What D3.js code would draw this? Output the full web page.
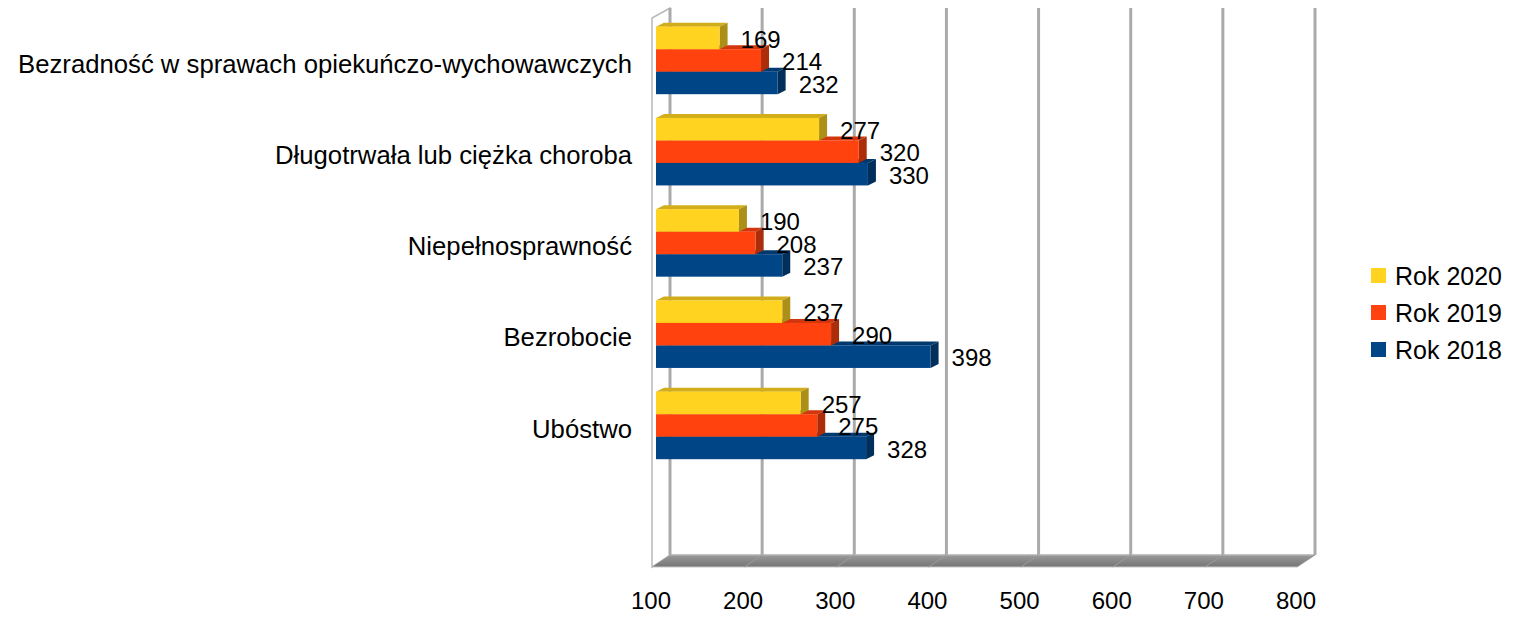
<!DOCTYPE html>
<html>
<head>
<meta charset="utf-8">
<script src="https://cdn.jsdelivr.net/npm/d3@7"></script>
<style>
  html, body { margin: 0; padding: 0; background: #ffffff; }
  svg { display: block; font-family: "Liberation Sans", Arial, sans-serif; }
</style>
</head>
<body>
<svg id="chart" width="1521" height="617"></svg>
<script>
// ---- data ----
const categories = [
  "Bezradność w sprawach opiekuńczo-wychowawczych",
  "Długotrwała lub ciężka choroba",
  "Niepełnosprawność",
  "Bezrobocie",
  "Ubóstwo"
];
const seriesNames = ["Rok 2020", "Rok 2019", "Rok 2018"];
const rok2020 = [169, 277, 190, 237, 257];
const rok2019 = [214, 320, 208, 290, 275];
const rok2018 = [232, 330, 237, 398, 328];
const seriesColors = ["#FFD320", "#FF420E", "#004586"];
const xTicks = [100, 200, 300, 400, 500, 600, 700, 800];

const seriesValues = [rok2020, rok2019, rok2018];

const svg = d3.select("#chart");

// ---- scales ----
const x = d3.scaleLinear().domain([100, 800]).range([652, 1297]); // front plane
const depth = { dx: 18, dy: -12 };       // wall depth
const barShift = 4;                       // bars sit slightly behind front plane
const barDepth = { dx: 8, dy: -4 };
const y = d3.scaleBand().domain(categories).range([14.8, 471.05])
  .paddingInner(0.26).paddingOuter(0.13);
const ySub = d3.scaleBand().domain(seriesNames).range([0, y.bandwidth()]);

const floorFront = 567, wallTop = 8;

// ---- walls / floor ----
const g = svg.append("g");

// left wall
g.append("polygon")
  .attr("points", [[x(100), floorFront], [x(100), wallTop + 10], [x(100) + depth.dx, wallTop], [x(100) + depth.dx, floorFront + depth.dy]].map(p => p.join(",")).join(" "))
  .attr("fill", "#ffffff").attr("stroke", "#b8b8b8").attr("stroke-width", 1.5);

// back wall grid lines
g.selectAll("line.grid").data(xTicks).join("line")
  .attr("class", "grid")
  .attr("x1", d => x(d) + depth.dx).attr("x2", d => x(d) + depth.dx)
  .attr("y1", wallTop).attr("y2", floorFront + depth.dy)
  .attr("stroke", "#aaaaaa").attr("stroke-width", 3);

// floor
const defs = svg.append("defs");
const fg = defs.append("linearGradient").attr("id", "floorGrad").attr("x1", 0).attr("y1", 0).attr("x2", 0).attr("y2", 1);
fg.append("stop").attr("offset", "0%").attr("stop-color", "#9a9a9a");
fg.append("stop").attr("offset", "100%").attr("stop-color", "#747474");
g.append("polygon")
  .attr("points", [[x(100), floorFront], [x(800), floorFront], [x(800) + depth.dx, floorFront + depth.dy], [x(100) + depth.dx, floorFront + depth.dy]].map(p => p.join(",")).join(" "))
  .attr("fill", "url(#floorGrad)");
g.append("line")
  .attr("x1", x(100) + depth.dx).attr("x2", x(800) + depth.dx)
  .attr("y1", floorFront + depth.dy).attr("y2", floorFront + depth.dy)
  .attr("stroke", "#b0b0b0").attr("stroke-width", 1.5);
g.append("line")
  .attr("x1", x(100)).attr("x2", x(800))
  .attr("y1", floorFront).attr("y2", floorFront)
  .attr("stroke", "#c8c8c8").attr("stroke-width", 1);
g.selectAll("line.fdiv").data(xTicks.slice(1)).join("line")
  .attr("class", "fdiv")
  .attr("x1", d => x(d)).attr("y1", floorFront)
  .attr("x2", d => x(d) + depth.dx).attr("y2", floorFront + depth.dy)
  .attr("stroke", "#9c9c9c").attr("stroke-width", 1);

// ---- bars (draw bottom bars first so upper front faces overlap) ----
const bars = svg.append("g");
categories.forEach((cat, ci) => {
  for (let si = seriesNames.length - 1; si >= 0; si--) {
    const v = seriesValues[si][ci];
    const col = d3.color(seriesColors[si]);
    const x0 = x(100) + barShift, x1 = x(v) + barShift;
    const y0 = y(cat) + ySub(seriesNames[si]);
    const h = ySub.bandwidth();
    const bg = bars.append("g");
    // top face
    bg.append("polygon")
      .attr("points", [[x0, y0], [x1, y0], [x1 + barDepth.dx, y0 + barDepth.dy], [x0 + barDepth.dx, y0 + barDepth.dy]].map(p => p.join(",")).join(" "))
      .attr("fill", col.darker(0.55).formatHex());
    // side face
    bg.append("polygon")
      .attr("points", [[x1, y0], [x1 + barDepth.dx, y0 + barDepth.dy], [x1 + barDepth.dx, y0 + h + barDepth.dy], [x1, y0 + h]].map(p => p.join(",")).join(" "))
      .attr("fill", col.darker(1.1).formatHex());
    // front face
    bg.append("rect")
      .attr("x", x0).attr("y", y0).attr("width", x1 - x0).attr("height", h)
      .attr("fill", col.formatHex());
  }
});

// ---- data labels ----
const labels = svg.append("g").attr("font-size", 24).attr("fill", "#000");
categories.forEach((cat, ci) => {
  seriesNames.forEach((s, si) => {
    const v = seriesValues[si][ci];
    labels.append("text")
      .attr("x", x(v) + barShift + 21)
      .attr("y", y(cat) + ySub(s) + ySub.bandwidth() / 2 + 1)
      .attr("dy", "0.36em")
      .text(v);
  });
});

// ---- category labels ----
svg.append("g").selectAll("text").data(categories).join("text")
  .attr("x", 632)
  .attr("y", d => y(d) + y.bandwidth() / 2 + 3)
  .attr("dy", "0.36em")
  .attr("text-anchor", "end")
  .attr("font-size", 25.7)
  .attr("fill", "#000")
  .text(d => d);

// ---- x tick labels ----
svg.append("g").selectAll("text").data(xTicks).join("text")
  .attr("x", d => x(d) - 1)
  .attr("y", 609)
  .attr("text-anchor", "middle")
  .attr("font-size", 24)
  .attr("fill", "#000")
  .text(d => d);

// ---- legend ----
const legend = svg.append("g");
seriesNames.forEach((s, i) => {
  const cy = 275.5 + i * 37;
  legend.append("rect")
    .attr("x", 1371).attr("y", cy - 7.5).attr("width", 15).attr("height", 15)
    .attr("fill", seriesColors[i]);
  legend.append("text")
    .attr("x", 1395).attr("y", cy).attr("dy", "0.36em")
    .attr("font-size", 25).attr("fill", "#000")
    .text(s);
});
</script>
</body>
</html>
